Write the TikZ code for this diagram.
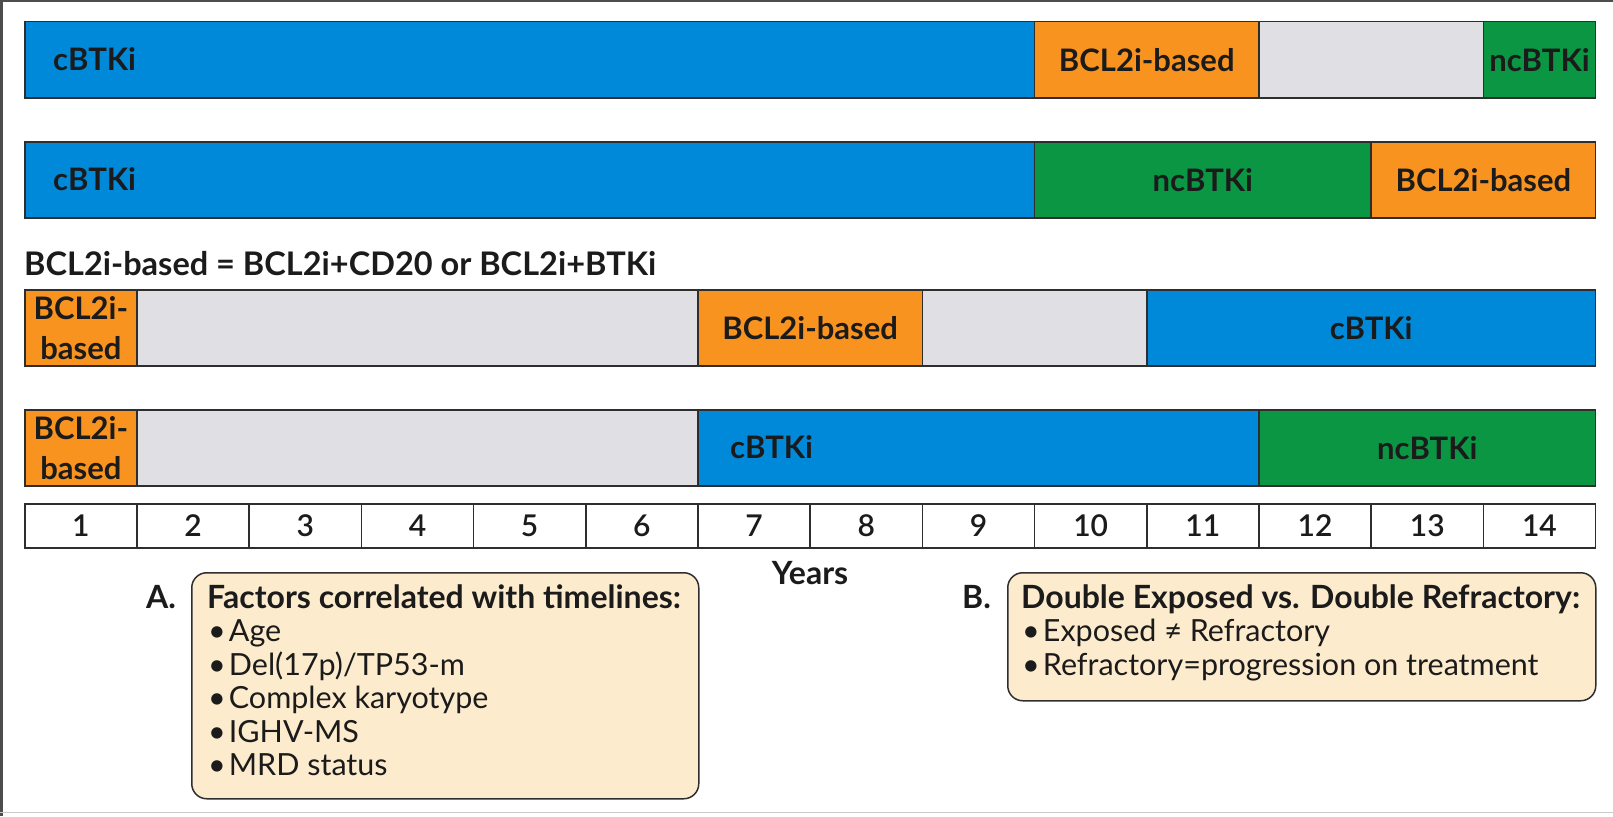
\documentclass[tikz,border=0pt]{standalone}
\usepackage{fontspec}
\setmainfont{Lato}
\IfFontExistsTF{Lato Semibold}{\newfontfamily\numfam{Lato Semibold}}{\newfontfamily\numfam{Lato}[BoldFont={Lato Bold}]}
\definecolor{cblue}{HTML}{0089D8}
\definecolor{corange}{HTML}{F8931F}
\definecolor{cgreen}{HTML}{0A9642}
\definecolor{cgray}{HTML}{E0DFE4}
\definecolor{cbox}{HTML}{FDEBCD}
\definecolor{lnc}{HTML}{2E2E2E}
\definecolor{txt}{HTML}{1B1B1B}
\newcommand\barfont{\fontsize{31}{40}\selectfont\bfseries}
\newcommand\listfont{\fontsize{30.5}{33.5}\selectfont}
\newcommand\titfont{\fontsize{32}{33.5}\selectfont\bfseries}
\newcommand\segm[6]{\node[seg, fill=#5, minimum width={(#4-#3)*112.2pt}] (#1) at ({24+(#3)*112.2}, #2) {#6};}
\begin{document}
\begin{tikzpicture}[x=1pt,y=-1pt,
  seg/.style={draw=lnc, line width=1.5pt, minimum height=76pt, inner sep=0pt, anchor=north west, font=\barfont, text=txt, align=center},
  barlabel/.style={anchor=west, inner sep=0pt, font=\barfont, text=txt},
  yearcell/.style={draw=lnc, line width=1.5pt, fill=white, minimum width=112.2pt, minimum height=44pt, inner sep=0pt, anchor=north west, font=\fontsize{30}{30}\selectfont\numfam, text=txt},
  infobox/.style={draw=lnc, line width=1.5pt, fill=cbox, rounded corners=15pt, anchor=north west, inner sep=0pt},
  boxtitle/.style={anchor=base west, inner sep=0pt, font=\titfont, text=txt},
  boxline/.style={anchor=base west, inner sep=0pt, font=\listfont, text=txt}]
\useasboundingbox (0,0) rectangle (1613,816);
\fill[white] (0,0) rectangle (1613,816);
% frame
\draw[lnc!85, line width=2.5pt] (1.25,816) -- (1.25,1.25) -- (1613,1.25);
\draw[lnc!25, line width=1.5pt] (0,812.5) -- (1613,812.5);

% row 1
\segm{r1a}{21}{0}{9}{cblue}{}
\segm{r1b}{21}{9}{11}{corange}{BCL2i-based}
\segm{r1c}{21}{11}{13}{cgray}{}
\segm{r1d}{21}{13}{14}{cgreen}{ncBTKi}
\node[barlabel] (r1lab) at (53,59) {cBTKi};

% row 2
\segm{r2a}{141}{0}{9}{cblue}{}
\segm{r2b}{141}{9}{12}{cgreen}{ncBTKi}
\segm{r2c}{141}{12}{14}{corange}{BCL2i-based}
\node[barlabel] (r2lab) at (53,179) {cBTKi};

% heading
\node[anchor=base west, inner sep=0pt, font=\fontsize{32.5}{34}\selectfont\bfseries, text=txt] (defn) at (24,275) {BCL2i-based = BCL2i+CD20 or BCL2i+BTKi};

% row 3
\segm{r3a}{289}{0}{1}{corange}{BCL2i-\\based}
\segm{r3b}{289}{1}{6}{cgray}{}
\segm{r3c}{289}{6}{8}{corange}{BCL2i-based}
\segm{r3d}{289}{8}{10}{cgray}{}
\segm{r3e}{289}{10}{14}{cblue}{cBTKi}

% row 4
\segm{r4a}{409}{0}{1}{corange}{BCL2i-\\based}
\segm{r4b}{409}{1}{6}{cgray}{}
\segm{r4c}{409}{6}{11}{cblue}{}
\segm{r4d}{409}{11}{14}{cgreen}{ncBTKi}
\node[barlabel] (r4lab) at (730,447) {cBTKi};

% years
\foreach \i in {1,...,14}
  \node[yearcell] (y\i) at ({24+(\i-1)*112.2}, 503) {\i};
\node[anchor=base, inner sep=0pt, font=\titfont, text=txt] (years) at (810,584) {Years};

% box A
\node[infobox, minimum width=507pt, minimum height=226pt] (boxA) at (191,572) {};
\node[boxtitle] (tagA) at (146,608) {A.};
\node[boxtitle] (titA) at (207,608) {Factors correlated with timelines:};
\foreach \t [count=\i] in {Age, {Del(17p)/TP53-m}, Complex karyotype, IGHV-MS, MRD status}
  \node[boxline] (A\i) at (208, {608+33.5*\i}) {•\hspace{3pt}\t};

% box B
\node[infobox, minimum width=588pt, minimum height=128pt] (boxB) at (1007,572) {};
\node[boxtitle] (tagB) at (962,608) {B.};
\node[boxtitle] (titB) at (1021,608) {Double Exposed vs. Double Refractory:};
\node[boxline] (B1) at (1022,641.5) {•\hspace{3pt}Exposed ≠ Refractory};
\node[boxline] (B2) at (1022,675) {•\hspace{3pt}Refractory=progression on treatment};
\end{tikzpicture}
\end{document}
